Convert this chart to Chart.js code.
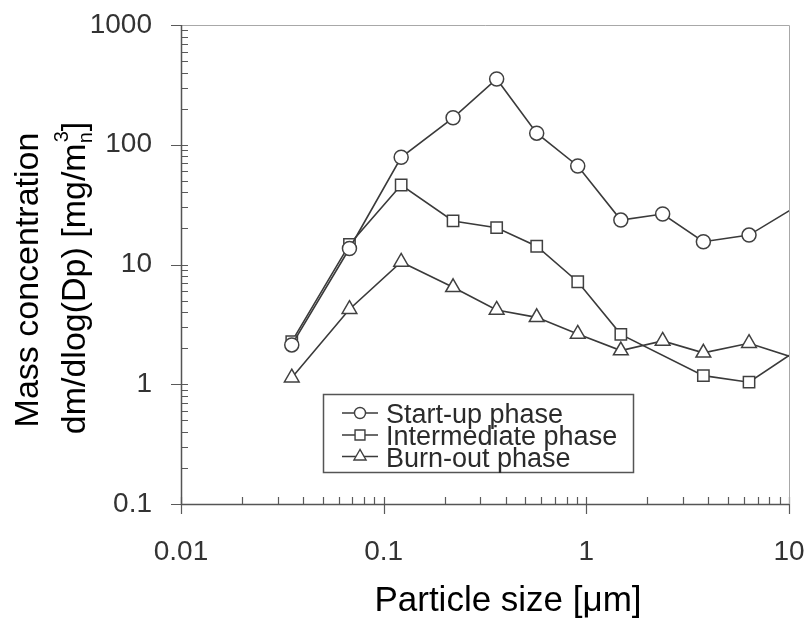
<!DOCTYPE html>
<html>
<head>
<meta charset="utf-8">
<script src="https://cdn.jsdelivr.net/npm/chart.js@4.4.1/dist/chart.umd.min.js"></script>
<style>
    html, body { margin: 0; padding: 0; background: #fff; }
    canvas { display: block; }
</style>
</head>
<body>
<canvas id="myChart" width="806" height="619"></canvas>
<script>
// particle size [um] (last one sits just past the axis end and is clipped)
const sizes = [0.0352, 0.0678, 0.122, 0.220, 0.361, 0.569, 0.907, 1.48, 2.38, 3.78, 6.35, 10.3];
const startUp = [2.13, 13.6, 78.6, 168, 354, 125, 66.5, 23.5, 26.4, 15.5, 17.6, 28.9];
const intermediate = [2.27, 14.7, 46.1, 23.1, 20.3, 14.2, 7.18, 2.61, null, 1.18, 1.04, 1.80];
const burnOut = [1.135, 4.23, 10.5, 6.45, 4.17, 3.62, 2.63, 1.91, 2.30, 1.83, 2.20, 1.69];

const seriesNames = ['Start-up phase', 'Intermediate phase', 'Burn-out phase'];
const xTickValues = [0.01, 0.1, 1, 10];
const yTickValues = [0.1, 1, 10, 100, 1000];

const FONT = "'Liberation Sans', Arial, Helvetica, sans-serif";
const LINE = '#3a3a3a';

function toPoints(values) {
    return sizes.map((x, i) => ({x: x, y: values[i]}));
}

function decadeLabel(v) {
    const e = Math.round(Math.log10(v));
    return e < 0 ? Math.pow(10, e).toFixed(-e) : String(Math.pow(10, e));
}

// hide the marker of the last (off-axis) point
const lastIndex = sizes.length - 1;
function radius(r) {
    return ctx => ctx.dataIndex === lastIndex ? 0 : r;
}

function makeDataset(label, values, style, r) {
    return {
        label: label,
        data: toPoints(values),
        borderColor: LINE,
        borderWidth: 1.6,
        pointStyle: style,
        pointRadius: radius(r),
        pointHoverRadius: radius(r),
        pointBorderColor: '#404040',
        pointBorderWidth: 1.5,
        pointBackgroundColor: '#fff',
        spanGaps: true,
        clip: 0,
        tension: 0,
    };
}

function noPadding(s) {
    s.paddingTop = 0;
    s.paddingBottom = 0;
    s.paddingLeft = 0;
    s.paddingRight = 0;
}

const ticksAndFrame = {
    id: 'ticksAndFrame',
    beforeDatasetsDraw(chart) {
        const {ctx, chartArea: a, scales: {x, y}} = chart;
        ctx.save();
        ctx.strokeStyle = '#5a5a5a';
        ctx.lineWidth = 1.2;
        ctx.beginPath();
        for (let e = -2; e <= 1; e++) {
            for (let k = 1; k <= 9; k++) {
                const v = k * Math.pow(10, e);
                if (v > x.max * 1.0001) continue;
                const px = Math.round(x.getPixelForValue(v)) + 0.5;
                if (k === 1) {
                    ctx.moveTo(px, a.bottom - 7);
                    ctx.lineTo(px, a.bottom + 10);
                } else {
                    ctx.moveTo(px, a.bottom);
                    ctx.lineTo(px, a.bottom - 7);
                }
            }
        }
        for (let e = -1; e <= 3; e++) {
            for (let k = 1; k <= 9; k++) {
                const v = k * Math.pow(10, e);
                if (v > y.max * 1.0001) continue;
                const py = Math.round(y.getPixelForValue(v)) + 0.5;
                if (k === 1) {
                    ctx.moveTo(a.left - 10, py);
                    ctx.lineTo(a.left + 7, py);
                } else {
                    ctx.moveTo(a.left, py);
                    ctx.lineTo(a.left + 7, py);
                }
            }
        }
        ctx.stroke();

        // top and right border, lighter
        ctx.strokeStyle = '#a8a8a8';
        ctx.lineWidth = 1;
        ctx.beginPath();
        ctx.moveTo(a.left, Math.round(a.top) + 0.5);
        ctx.lineTo(Math.round(a.right) + 0.5, Math.round(a.top) + 0.5);
        ctx.lineTo(Math.round(a.right) + 0.5, a.bottom);
        ctx.stroke();

        // left and bottom axis lines
        ctx.strokeStyle = '#555';
        ctx.lineWidth = 1.5;
        ctx.beginPath();
        ctx.moveTo(Math.round(a.left) + 0.5, a.top);
        ctx.lineTo(Math.round(a.left) + 0.5, Math.round(a.bottom) + 0.5);
        ctx.lineTo(a.right, Math.round(a.bottom) + 0.5);
        ctx.stroke();
        ctx.restore();
    }
};

function marker(ctx, style, cx, cy, r) {
    ctx.beginPath();
    if (style === 'circle') {
        ctx.arc(cx, cy, r, 0, Math.PI * 2);
    } else if (style === 'rect') {
        const s = r * Math.SQRT1_2;
        ctx.rect(cx - s, cy - s, 2 * s, 2 * s);
    } else {
        const h = r * 1.5;
        ctx.moveTo(cx, cy - r);
        ctx.lineTo(cx - r * 0.866, cy + h - r);
        ctx.lineTo(cx + r * 0.866, cy + h - r);
        ctx.closePath();
    }
    ctx.fillStyle = '#fff';
    ctx.fill();
    ctx.stroke();
}

const boxLegend = {
    id: 'boxLegend',
    afterDatasetsDraw(chart) {
        const ctx = chart.ctx;
        const left = 323, top = 394, w = 310, h = 78;
        ctx.save();
        ctx.fillStyle = '#fff';
        ctx.fillRect(left, top, w, h);
        ctx.strokeStyle = '#555';
        ctx.lineWidth = 1.5;
        ctx.strokeRect(left + 0.5, top + 0.5, w, h);

        const rows = [413, 435, 456.5];
        const sizesR = [5.5, 7, 7];
        chart.data.datasets.forEach((ds, i) => {
            const cy = rows[i];
            ctx.strokeStyle = LINE;
            ctx.lineWidth = 1.5;
            ctx.beginPath();
            ctx.moveTo(342, cy);
            ctx.lineTo(378, cy);
            ctx.stroke();
            ctx.strokeStyle = '#404040';
            ctx.lineWidth = 1.4;
            marker(ctx, ds.pointStyle, 360, cy, sizesR[i]);
            ctx.fillStyle = '#2b2b2b';
            ctx.font = '27px ' + FONT;
            ctx.textAlign = 'left';
            ctx.textBaseline = 'alphabetic';
            ctx.fillText(ds.label, 386, cy + 10);
        });
        ctx.restore();
    }
};

const axisTitles = {
    id: 'axisTitles',
    afterDraw(chart) {
        const ctx = chart.ctx;
        ctx.save();
        ctx.fillStyle = '#000';
        ctx.textBaseline = 'alphabetic';

        // x title
        ctx.font = '35px ' + FONT;
        ctx.textAlign = 'center';
        ctx.fillText('Particle size [\u03bcm]', 508, 611);

        // y title, line 1
        ctx.save();
        ctx.translate(38, 280);
        ctx.rotate(-Math.PI / 2);
        ctx.font = '34px ' + FONT;
        ctx.textAlign = 'center';
        ctx.fillText('Mass concentration', 0, 0);
        ctx.restore();

        // y title, line 2 with subscript n and superscript 3
        ctx.save();
        ctx.translate(85, 278);
        ctx.rotate(-Math.PI / 2);
        ctx.textAlign = 'left';
        const big = '34px ' + FONT, small = '20px ' + FONT;
        const main = 'dm/dlog(Dp) [mg/m';
        ctx.font = big;
        const wMain = ctx.measureText(main).width;
        const wEnd = ctx.measureText(']').width;
        ctx.font = small;
        const wSub = Math.max(ctx.measureText('n').width, ctx.measureText('3').width) + 1;
        const total = wMain + wSub + wEnd;
        let xPos = -total / 2;
        ctx.font = big;
        ctx.fillText(main, xPos, 0);
        xPos += wMain;
        ctx.font = small;
        ctx.fillText('n', xPos, 7);
        ctx.fillText('3', xPos + 1, -17);
        xPos += wSub;
        ctx.font = big;
        ctx.fillText(']', xPos, 0);
        ctx.restore();

        ctx.restore();
    }
};

const ds2 = makeDataset(seriesNames[1], intermediate, 'rect', 8);
// the step over the missing point is drawn thinner
ds2.segment = {
    borderWidth: c => (c.p1DataIndex - c.p0DataIndex > 1) ? 1 : undefined,
    borderColor: c => (c.p1DataIndex - c.p0DataIndex > 1) ? '#6a6a6a' : undefined,
};

new Chart(document.getElementById('myChart'), {
    type: 'line',
    data: {
        datasets: [
            makeDataset(seriesNames[0], startUp, 'circle', 7),
            ds2,
            makeDataset(seriesNames[2], burnOut, 'triangle', 8.5),
        ]
    },
    options: {
        responsive: false,
        animation: false,
        devicePixelRatio: 1,
        layout: {padding: {top: 25, right: 17, left: 0, bottom: 0}},
        plugins: {
            legend: {display: false},
            tooltip: {enabled: false},
        },
        scales: {
            x: {
                type: 'logarithmic',
                position: 'bottom',
                min: 0.01,
                max: 10,
                afterBuildTicks: s => { s.ticks = xTickValues.map(v => ({value: v})); },
                afterFit: s => { s.height = 115; noPadding(s); },
                grid: {display: false},
                border: {display: false},
                ticks: {
                    autoSkip: false,
                    maxRotation: 0,
                    padding: 23,
                    color: '#333',
                    font: {family: FONT, size: 28},
                    callback: v => decadeLabel(v),
                },
            },
            y: {
                type: 'logarithmic',
                min: 0.1,
                max: 1000,
                afterBuildTicks: s => { s.ticks = yTickValues.map(v => ({value: v})); },
                afterFit: s => { s.width = 181; noPadding(s); },
                grid: {display: false},
                border: {display: false},
                ticks: {
                    autoSkip: false,
                    padding: 21,
                    color: '#333',
                    font: {family: FONT, size: 28},
                    callback: v => decadeLabel(v),
                },
            },
        },
    },
    plugins: [ticksAndFrame, boxLegend, axisTitles],
});
</script>
</body>
</html>
